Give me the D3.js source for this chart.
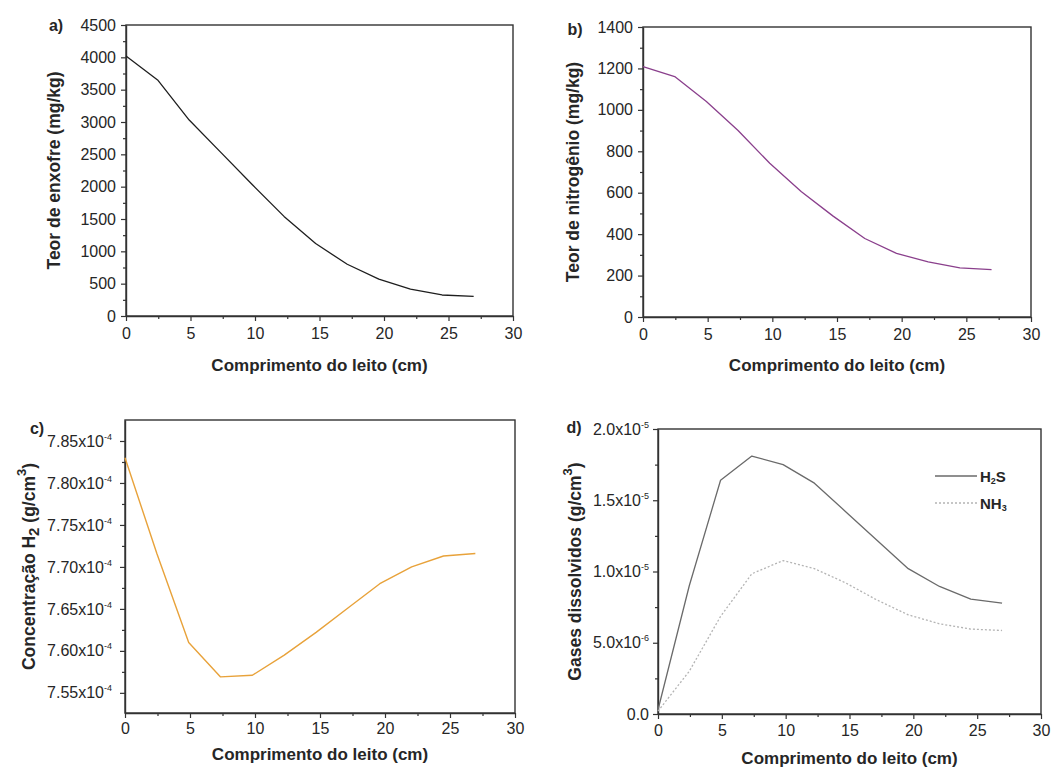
<!DOCTYPE html>
<html>
<head>
<meta charset="utf-8">
<script src="https://cdn.jsdelivr.net/npm/d3@7"></script>
<style>
  html, body { margin: 0; padding: 0; background: #ffffff; }
  svg { display: block; }
  text { font-family: "Liberation Sans", Arial, sans-serif; }
</style>
</head>
<body>
<svg id="fig" width="1058" height="769"></svg>
<script>
// Bed length positions (cm) shared by all profiles
const bedLength = [0, 2.45, 4.9, 7.35, 9.8, 12.25, 14.7, 17.15, 19.6, 22.05, 24.5, 26.95];

// a) sulfur content (mg/kg)
const sulfurContent = [4020, 3650, 3030, 2530, 2030, 1540, 1120, 800, 570, 415, 325, 305];
// b) nitrogen content (mg/kg)
const nitrogenContent = [1209, 1161, 1040, 900, 742, 605, 487, 379, 307, 266, 237, 229];
// c) dissolved H2 concentration (g/cm3)
const h2Concentration = [7.830e-4, 7.716e-4, 7.610e-4, 7.569e-4, 7.571e-4, 7.595e-4,
                         7.622e-4, 7.651e-4, 7.680e-4, 7.700e-4, 7.713e-4, 7.716e-4];
// d) dissolved gases (g/cm3)
const h2sDissolved = [0.3e-6, 9.0e-6, 16.4e-6, 18.1e-6, 17.5e-6, 16.2e-6,
                      14.2e-6, 12.2e-6, 10.2e-6, 8.95e-6, 8.06e-6, 7.78e-6];
const nh3Dissolved = [0.2e-6, 3.0e-6, 6.85e-6, 9.84e-6, 10.77e-6, 10.2e-6,
                      9.2e-6, 8.0e-6, 6.96e-6, 6.33e-6, 5.96e-6, 5.86e-6];

// Tick values
const xTicks = [0, 5, 10, 15, 20, 25, 30];
const xMinor = [2.5, 7.5, 12.5, 17.5, 22.5, 27.5];
const sulfurTicks = [0, 500, 1000, 1500, 2000, 2500, 3000, 3500, 4000, 4500];
const nitrogenTicks = [0, 200, 400, 600, 800, 1000, 1200, 1400];
const h2Ticks = [7.55e-4, 7.60e-4, 7.65e-4, 7.70e-4, 7.75e-4, 7.80e-4, 7.85e-4];
const gasTicks = [0, 5e-6, 1e-5, 1.5e-5, 2e-5];
// Tick labels (mantissa, exponent)
const h2TickLabels = [["7.55", "-4"], ["7.60", "-4"], ["7.65", "-4"], ["7.70", "-4"],
                      ["7.75", "-4"], ["7.80", "-4"], ["7.85", "-4"]];
const gasTickLabels = [["0.0", null], ["5.0", "-6"], ["1.0", "-5"], ["1.5", "-5"], ["2.0", "-5"]];

const xTitle = "Comprimento do leito (cm)";
const svg = d3.select("#fig");
const axisColor = "#333333";
const textColor = "#262626";
const plain = v => String(v);

function midpoints(t) {
  const m = [];
  for (let i = 0; i < t.length - 1; i++) m.push((t[i] + t[i + 1]) / 2);
  return m;
}

function drawPanel(p) {
  const g = svg.append("g");
  const x = d3.scaleLinear().domain([0, 30]).range([p.left, p.right]);
  const y = d3.scaleLinear().domain(p.yDomain).range([p.bottom, p.top]);

  // minor ticks
  g.append("g").attr("transform", `translate(0,${p.bottom})`)
    .call(d3.axisBottom(x).tickValues(xMinor).tickSize(3).tickSizeOuter(0).tickFormat(""))
    .call(s => s.select(".domain").remove());
  g.append("g").attr("transform", `translate(${p.left},0)`)
    .call(d3.axisLeft(y).tickValues(midpoints(p.yTicks)).tickSize(3).tickSizeOuter(0).tickFormat(""))
    .call(s => s.select(".domain").remove());

  // major x axis
  const gx = g.append("g").attr("transform", `translate(0,${p.bottom})`)
    .call(d3.axisBottom(x).tickValues(xTicks).tickFormat(plain)
      .tickSize(5).tickPadding(p.xPad).tickSizeOuter(0));
  gx.selectAll("text").attr("font-size", 16).attr("fill", textColor);

  // major y axis
  const gy = g.append("g").attr("transform", `translate(${p.left},0)`)
    .call(d3.axisLeft(y).tickValues(p.yTicks).tickFormat(plain)
      .tickSize(5).tickPadding(p.yPad).tickSizeOuter(0));
  gy.selectAll("text").attr("font-size", 16).attr("fill", textColor);
  if (p.yLabels) {
    gy.selectAll(".tick text").each(function (d, i) {
      const t = d3.select(this).text("");
      const lab = p.yLabels[i];
      if (lab[1] === null) { t.text(lab[0]); return; }
      t.append("tspan").text(lab[0] + "x10");
      t.append("tspan").attr("font-size", 9).attr("dy", -7).text(lab[1]);
    });
  }
  g.selectAll(".tick line").attr("stroke", axisColor).attr("stroke-width", 1.2);
  g.selectAll(".domain").attr("stroke", axisColor).attr("stroke-width", 1.4);

  // frame
  g.append("rect").attr("x", p.left).attr("y", p.top)
    .attr("width", p.right - p.left).attr("height", p.bottom - p.top)
    .attr("fill", "none").attr("stroke", axisColor).attr("stroke-width", 1.4);

  // series
  const line = d3.line().x((d, i) => x(bedLength[i])).y(d => y(d));
  p.series.forEach(s => {
    g.append("path").datum(s.values)
      .attr("d", line)
      .attr("fill", "none")
      .attr("stroke", s.color)
      .attr("stroke-width", s.width || 1.3)
      .attr("stroke-dasharray", s.dash || null)
      .attr("stroke-linejoin", "round");
  });

  // x title
  g.append("text").attr("x", (p.left + p.right) / 2).attr("y", p.xTitleY)
    .attr("text-anchor", "middle").attr("dominant-baseline", "central")
    .attr("font-size", 17).attr("font-weight", "bold").attr("fill", textColor)
    .text(xTitle);

  // y title (sub/superscripts shifted in px so the baseline returns exactly)
  const yt = g.append("text")
    .attr("transform", `translate(${p.yTitleX},${(p.top + p.bottom) / 2}) rotate(-90)`)
    .attr("text-anchor", "middle").attr("dominant-baseline", "central")
    .attr("font-size", 17.5).attr("font-weight", "bold").attr("fill", textColor);
  p.yTitle.forEach(part => {
    const ts = yt.append("tspan").text(part.t);
    if (part.size) ts.attr("font-size", part.size);
    if (part.dy) ts.attr("dy", part.dy);
  });

  // panel letter
  g.append("text").attr("x", p.letterX).attr("y", p.letterY)
    .attr("text-anchor", "middle").attr("dominant-baseline", "central")
    .attr("font-size", 16).attr("font-weight", "bold").attr("fill", textColor)
    .text(p.letter);

  return { g, x, y };
}

drawPanel({
  left: 126, right: 513, top: 25, bottom: 316,
  yDomain: [0, 4500], yTicks: sulfurTicks, xPad: 7, yPad: 5,
  series: [{ values: sulfurContent, color: "#1e1e1e" }],
  xTitleY: 365, yTitleX: 54,
  yTitle: [{ t: "Teor de enxofre (mg/kg)" }],
  letter: "a)", letterX: 56, letterY: 25
});

drawPanel({
  left: 643, right: 1031, top: 27, bottom: 317,
  yDomain: [0, 1400], yTicks: nitrogenTicks, xPad: 7, yPad: 5,
  series: [{ values: nitrogenContent, color: "#8a3f8c" }],
  xTitleY: 365, yTitleX: 573,
  yTitle: [{ t: "Teor de nitrogênio (mg/kg)" }],
  letter: "b)", letterX: 575, letterY: 29
});

drawPanel({
  left: 125, right: 515, top: 420, bottom: 713,
  yDomain: [7.526e-4, 7.875e-4], yTicks: h2Ticks, yLabels: h2TickLabels, xPad: 5, yPad: 8,
  series: [{ values: h2Concentration, color: "#e8a23a", width: 1.4 }],
  xTitleY: 754, yTitleX: 29,
  yTitle: [{ t: "Concentração H" }, { t: "2", size: 15, dy: 4 }, { t: "  (g/cm", dy: -4 },
           { t: "3", size: 13, dy: -8 }, { t: ")", dy: 8 }],
  letter: "c)", letterX: 37, letterY: 428
});

const d = drawPanel({
  left: 658, right: 1041, top: 429, bottom: 714,
  yDomain: [0, 2e-5], yTicks: gasTicks, yLabels: gasTickLabels, xPad: 6, yPad: 4,
  series: [
    { values: h2sDissolved, color: "#6a6a6a", width: 1.3 },
    { values: nh3Dissolved, color: "#b4b4b4", width: 1.3, dash: "2,2" }
  ],
  xTitleY: 758, yTitleX: 575,
  yTitle: [{ t: "Gases dissolvidos (g/cm" }, { t: "3", size: 13, dy: -8 }, { t: ")", dy: 8 }],
  letter: "d)", letterX: 574, letterY: 427
});

// legend for panel d
const legendItems = [
  { name: ["H", "2", "S"], color: "#6a6a6a", dash: null, y: 476 },
  { name: ["NH", "3", ""], color: "#b4b4b4", dash: "2,2", y: 503 }
];
const lg = d.g.append("g");
legendItems.forEach(it => {
  lg.append("line").attr("x1", 935).attr("x2", 977).attr("y1", it.y).attr("y2", it.y)
    .attr("stroke", it.color).attr("stroke-width", 1.3).attr("stroke-dasharray", it.dash);
  const t = lg.append("text").attr("x", 980).attr("y", it.y)
    .attr("dominant-baseline", "central")
    .attr("font-size", 15).attr("font-weight", "bold").attr("fill", textColor);
  t.append("tspan").text(it.name[0]);
  t.append("tspan").attr("font-size", 9).attr("dy", 5).text(it.name[1]);
  if (it.name[2]) t.append("tspan").attr("dy", -5).text(it.name[2]);
});
</script>
</body>
</html>
